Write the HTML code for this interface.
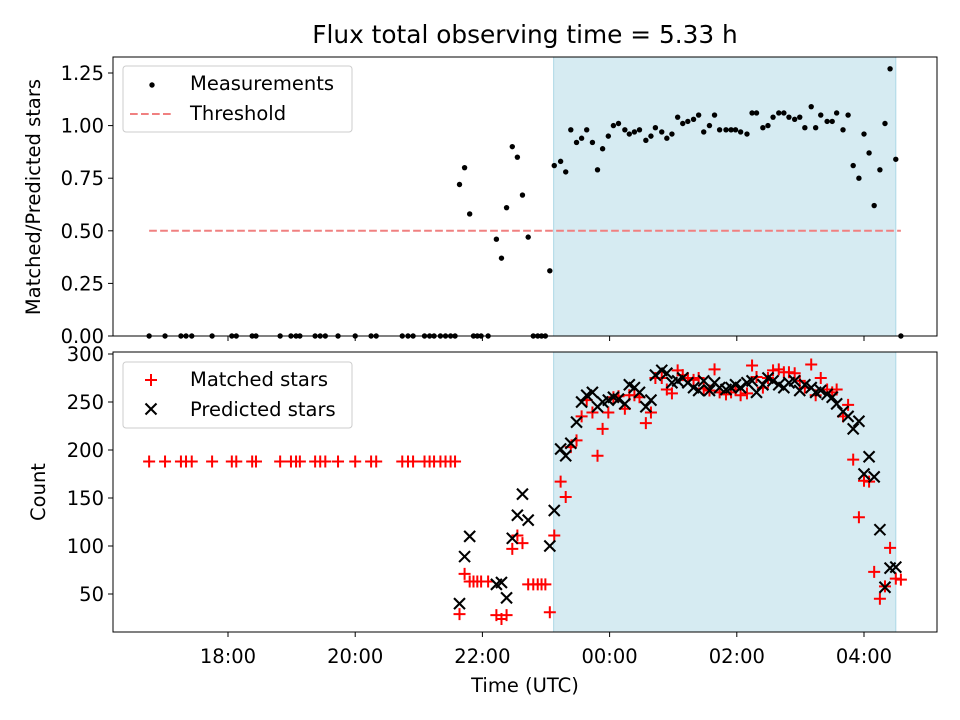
<!DOCTYPE html>
<html><head><meta charset="utf-8"><style>
body{margin:0;background:#fff;}
svg{display:block;font-family:"DejaVu Sans","Liberation Sans",sans-serif;}
</style></head><body>
<svg id="chart" width="960" height="720" viewBox="0 0 960 720" xmlns="http://www.w3.org/2000/svg">
<text x="525" y="43" font-size="24.8" text-anchor="middle">Flux total observing time = 5.33 h</text>
<g id="topPanel"></g>
<g id="botPanel"></g>
<text transform="translate(40,197) rotate(-90)" font-size="19.5" text-anchor="middle">Matched/Predicted stars</text>
<text transform="translate(45,492) rotate(-90)" font-size="19.5" text-anchor="middle">Count</text>
<text x="525" y="692" font-size="19.5" text-anchor="middle">Time (UTC)</text>
</svg>
<script>
// times in hours (values >24 are next day)
const earlyTimes=[16.76,17.01,17.26,17.34,17.43,17.75,18.06,18.13,18.38,18.44,18.82,18.99,19.07,19.13,19.37,19.45,19.53,19.73,20.00,20.25,20.33,20.74,20.83,20.91,21.09,21.17,21.24,21.34,21.42,21.50,21.57];
const earlyMatched=[188,188,188,188,188,188,188,188,188,188,188,188,188,188,188,188,188,188,188,188,188,188,188,188,188,188,188,188,188,188,188];
const midTimes=[21.64,21.72,21.80,21.86,21.92,21.98,22.09,22.22,22.30,22.38,22.47,22.55,22.63,22.72,22.80,22.87,22.93,22.99,23.06,23.13,23.23,23.31,23.39,23.48];
const midRatio=[0.72,0.80,0.58,0,0,0,0,0.46,0.37,0.61,0.90,0.85,0.67,0.47,0,0,0,0,0.31,0.81,0.83,0.78,0.98,0.92];
const midMatched=[29,71,63,63,63,63,63,28,24,28,97,111,103,60,60,60,60,60,31,111,167,151,203,210];
const midPredicted=[40,89,110,null,null,null,null,60,62,46,108,132,154,127,null,null,null,null,100,137,201,194,207,229];
const lateTimes=[23.56,23.64,23.73,23.81,23.89,23.98,24.06,24.14,24.24,24.31,24.39,24.47,24.57,24.65,24.72,24.82,24.90,24.98,25.07,25.15,25.23,25.32,25.40,25.48,25.57,25.65,25.73,25.83,25.91,25.98,26.06,26.16,26.24,26.31,26.41,26.49,26.57,26.66,26.74,26.82,26.91,26.99,27.07,27.17,27.24,27.32,27.42,27.50,27.57,27.67,27.75,27.83,27.92,28.00,28.08,28.16,28.25,28.33,28.41,28.50,28.58];
const lateRatio=[0.94,0.98,0.92,0.79,0.89,0.95,1.00,1.01,0.98,0.96,0.97,0.98,0.93,0.95,0.99,0.97,0.94,0.96,1.04,1.01,1.02,1.03,1.05,0.97,1.00,1.05,0.98,0.98,0.98,0.98,0.97,0.96,1.06,1.06,0.99,1.00,1.04,1.06,1.06,1.04,1.03,1.04,0.99,1.09,0.99,1.05,1.02,1.02,1.06,0.98,1.05,0.81,0.75,0.96,0.87,0.62,0.79,1.01,1.27,0.84,0];
const lateMatched=[235,252,239,194,222,239,255,256,243,257,257,255,228,239,275,275,263,259,283,278,275,273,275,264,262,284,260,258,260,263,257,259,288,276,265,275,283,284,281,281,280,272,265,289,257,275,263,260,263,235,247,190,130,168,167,73,45,58,98,66,65];
const latePredicted=[250,257,260,245,250,252,255,253,248,268,265,260,245,252,278,283,280,270,272,275,270,265,262,272,262,270,265,263,265,268,265,270,272,260,268,275,272,268,265,270,272,262,268,265,260,262,258,255,248,240,235,222,230,175,193,172,117,57,77,78,null];
const ratioTicks=[0,0.25,0.5,0.75,1.0,1.25];
const countTicks=[50,100,150,200,250,300];
const timeTicks=[18,20,22,24,26,28];
const timeLabels=["18:00","20:00","22:00","00:00","02:00","04:00"];
const threshold=0.5;
const shadeStart=23.12, shadeEnd=28.50;

const NS="http://www.w3.org/2000/svg";
const L=113,R=937,FS=19.5;
const X=t=>228+(t-18)*63.6;
const Yr=v=>336-v*210.4;
const Yc=v=>642-v*0.96;
function mk(p,tag,a){const e=document.createElementNS(NS,tag);for(const k in a)e.setAttribute(k,a[k]);p.appendChild(e);return e;}
const topG=document.getElementById('topPanel'),botG=document.getElementById('botPanel');
const panels=[[topG,57,336],[botG,352,632]];
panels.forEach(([g,t,b],i)=>{
  const s=mk(g,'rect',{x:X(shadeStart),y:t,width:X(shadeEnd)-X(shadeStart),height:b-t,fill:'#add8e6','fill-opacity':0.5,stroke:'#add8e6'});
  
  
});
const all=[].concat(earlyTimes,midTimes,lateTimes);
const allRatio=[].concat(earlyTimes.map(()=>0),midRatio,lateRatio);
const allM=[].concat(earlyMatched,midMatched,lateMatched);
const allP=[].concat(earlyTimes.map(()=>null),midPredicted,latePredicted);
const th=mk(topG,'line',{x1:X(all[0]),x2:X(all[all.length-1]),y1:Yr(threshold),y2:Yr(threshold),stroke:'#f08080','stroke-width':2,'stroke-dasharray':'7.7,3.3'});


all.forEach((t,i)=>{
  const c=mk(topG,'circle',{cx:X(t),cy:Yr(allRatio[i]),r:2.7,fill:'#000'});
  
  
});
all.forEach((t,i)=>{
  const x=X(t),y=Yc(allM[i]);
  const p=mk(botG,'path',{d:`M${x-6},${y}H${x+6}M${x},${y-6}V${y+6}`,stroke:'#f00','stroke-width':2,fill:'none'});
  
  
});
all.forEach((t,i)=>{
  if(allP[i]==null)return;
  const x=X(t),y=Yc(allP[i]);
  const p=mk(botG,'path',{d:`M${x-5.5},${y-5.5}L${x+5.5},${y+5.5}M${x-5.5},${y+5.5}L${x+5.5},${y-5.5}`,stroke:'#000','stroke-width':2.1,fill:'none'});
  
  
});
panels.forEach(([g,t,b],i)=>{
  const f=mk(g,'rect',{x:L,y:t,width:R-L,height:b-t,fill:'none',stroke:'#000','stroke-width':1});
  
  
  timeTicks.forEach((tt,j)=>{
    mk(g,'line',{x1:X(tt),x2:X(tt),y1:b,y2:b+5,stroke:'#000'});
    if(i){const tx=mk(g,'text',{x:X(tt),y:b+31,'font-size':FS,'text-anchor':'middle'});tx.textContent=timeLabels[j];
      
      }
  });
  const ticks=i?countTicks:ratioTicks, Y=i?Yc:Yr;
  ticks.forEach(v=>{
    mk(g,'line',{x1:L-5,x2:L,y1:Y(v),y2:Y(v),stroke:'#000'});
    const tx=mk(g,'text',{x:L-9,y:Y(v)+7,'font-size':FS,'text-anchor':'end'});
    tx.textContent=i?String(v):v.toFixed(2);
    
    
  });
});
function legend(g,y0,name){const r=mk(g,'rect',{x:123,y:y0,width:229,height:66,rx:3,fill:'#fff','fill-opacity':0.8,stroke:'#ccc'});
  
  }
legend(topG,66,'ratio-legend');
mk(topG,'circle',{cx:152,cy:85,r:2.7,fill:'#000'});
let t1=mk(topG,'text',{x:190,y:90,'font-size':FS});t1.textContent='Measurements';


mk(topG,'line',{x1:130,x2:172,y1:114,y2:114,stroke:'#f08080','stroke-width':2,'stroke-dasharray':'7.7,3.3'});
let t2=mk(topG,'text',{x:190,y:120,'font-size':FS});t2.textContent='Threshold';


legend(botG,362,'count-legend');
mk(botG,'path',{d:'M145,380H157M151,374V386',stroke:'#f00','stroke-width':2});
let t3=mk(botG,'text',{x:190,y:386,'font-size':FS});t3.textContent='Matched stars';


mk(botG,'path',{d:'M145.5,403.5L156.5,414.5M145.5,414.5L156.5,403.5',stroke:'#000','stroke-width':2.1});
let t4=mk(botG,'text',{x:190,y:416,'font-size':FS});t4.textContent='Predicted stars';


</script>
</body></html>
